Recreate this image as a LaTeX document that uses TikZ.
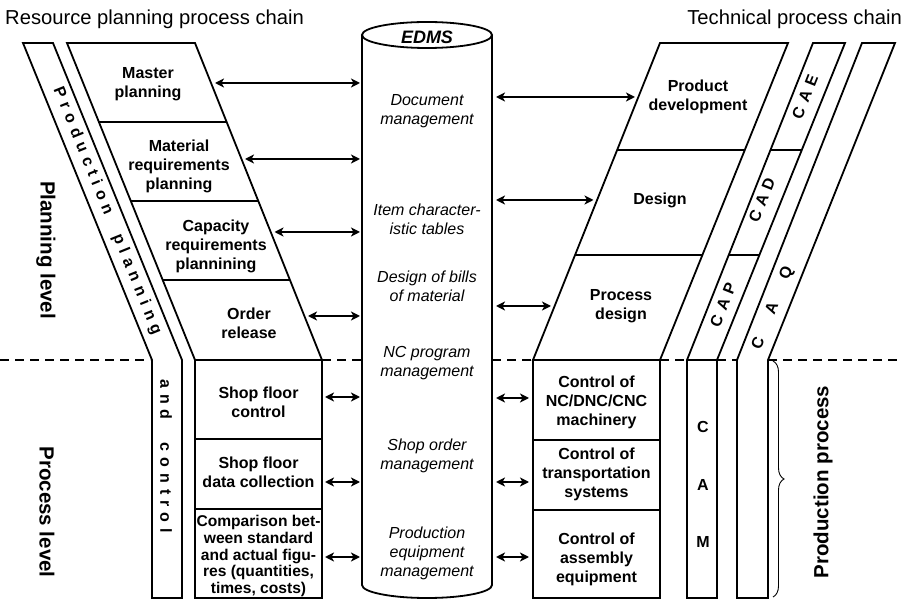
\documentclass[tikz,border=0pt]{standalone}
\usepackage{fontspec}
\setmainfont{Liberation Sans}
\usetikzlibrary{arrows.meta,decorations.pathreplacing}
\makeatletter
\newcommand\lsp[2]{\def\lsp@sep{\hspace{#1}}\@tfor\lsp@c:=#2\do{\lsp@c\lsp@sep}\unskip}
\makeatother
\tikzset{
  box/.style={draw=black, line width=1.8pt, fill=white, line join=miter},
  divline/.style={draw=black, line width=1.8pt},
  lbl/.style={font=\fontsize{16}{19}\selectfont\bfseries, align=center, inner sep=0pt},
  ital/.style={font=\fontsize{16}{19}\selectfont\itshape, align=center, inner sep=0pt},
  dbl/.style={line width=1.8pt, {Stealth[length=9pt,width=9pt,inset=2.5pt]}-{Stealth[length=9pt,width=9pt,inset=2.5pt]}},
  lvl/.style={font=\fontsize{20.5}{24}\selectfont\bfseries, inner sep=0pt},
  ttl/.style={font=\fontsize{20.2}{24}\selectfont, inner sep=0pt},
  bandtxt/.style={font=\fontsize{16}{19}\selectfont\bfseries, inner sep=0pt},
  levelline/.style={line width=2.5pt, dash pattern=on 8.5pt off 6.5pt},
}
\begin{document}
\begin{tikzpicture}[x=1pt,y=-1pt]
\useasboundingbox (0,0) rectangle (903,601);

% level separator (dashed)
\draw[levelline] (0,360) -- (150,360);
\draw[levelline] (322,360) -- (362,360);
\draw[levelline] (492,360) -- (533,360);
\draw[levelline] (660,360) -- (687,360);
\draw[levelline] (717,360) -- (737,360);
\draw[levelline] (768,360) -- (903,360);

% titles
\node[ttl, anchor=base west] (t1) at (5,25) {Resource planning process chain};
\node[ttl, anchor=base east] (t2) at (902,25) {Technical process chain};

% left outer band
\draw[box] (23,43) -- (53,43) -- (182,360) -- (182,598) -- (152,598) -- (152,360) -- cycle;
% left planning boxes
\draw[box] (67,43) -- (195,43) -- (322,360) -- (195,360) -- cycle;
\draw[divline] (98.6,122) -- (226.6,122);
\draw[divline] (130.3,201) -- (258.3,201);
\draw[divline] (162,280) -- (290,280);
% left process boxes
\draw[box] (195,360) rectangle (322,598);
\draw[divline] (195,439) -- (322,439);
\draw[divline] (195,509) -- (322,509);

% right planning boxes
\draw[box] (660,43) -- (788,43) -- (660,360) -- (533,360) -- cycle;
\draw[divline] (617.1,150) -- (745.1,150);
\draw[divline] (575.1,255) -- (703.1,255);
% right process boxes
\draw[box] (533,360) rectangle (660,598);
\draw[divline] (533,440) -- (660,440);
\draw[divline] (533,510) -- (660,510);

% right bands
\draw[box] (813,43) -- (845,43) -- (717,360) -- (717,598) -- (687,598) -- (687,360) -- cycle;
\draw[divline] (770.5,150) -- (801.8,150);
\draw[divline] (728.7,255) -- (759.4,255);
\draw[divline] (687,360) -- (717,360);
\draw[box] (862,43) -- (895,43) -- (768,360) -- (768,598) -- (737,598) -- (737,360) -- cycle;

% brace
\draw[line width=0.9pt, decorate, decoration={brace, amplitude=11pt}] (773,361) -- (773,597);

% EDMS cylinder
\draw[box] (362,35) -- (362,585) arc[start angle=180, end angle=360, x radius=65pt, y radius=13pt] -- (492,35);
\draw[box] (427,35) ellipse[x radius=65pt, y radius=13pt];
\node[font=\fontsize{18}{20}\selectfont\bfseries\itshape, inner sep=0pt] (edms) at (427,37) {EDMS};

% cylinder texts
\node[ital] (c1) at (427,111) {Document\\management};
\node[ital] (c2) at (427,219) {Item character-\\istic tables};
\node[ital] (c3) at (427,286) {Design of bills\\of material};
\node[ital] (c4) at (427,363) {NC program\\management};
\node[ital] (c5) at (427,456) {Shop order\\management};
\node[ital] (c6) at (427,553) {Production\\equipment\\management};

% left box texts
\node[lbl] (l1) at (148,84) {Master\\planning};
\node[lbl] (l2) at (179,166) {Material\\requirements\\planning};
\node[lbl] (l3) at (216,246) {Capacity\\requirements\\plannining};
\node[lbl] (l4) at (249,323) {Order\\release};
\node[lbl] (l5) at (258.5,402) {Shop floor\\control};
\node[lbl] (l6) at (258.5,472) {Shop floor\\data collection};
\node[lbl, font=\fontsize{15.6}{16.6}\selectfont\bfseries] (l7) at (258.5,556) {Comparison bet-\\ween standard\\and actual figu-\\res (quantities,\\times, costs)};

% right box texts
\node[lbl] (r1) at (698,97) {Product\\development};
\node[lbl] (r2) at (660,200) {Design};
\node[lbl] (r3) at (621,306) {Process\\design};
\node[lbl] (r4) at (596.5,402) {Control of\\NC/DNC/CNC\\machinery};
\node[lbl] (r5) at (596.5,474) {Control of\\transportation\\systems};
\node[lbl] (r6) at (596.5,559) {Control of\\assembly\\equipment};

% band texts
\node[bandtxt, rotate=-68] (bp) at (107,211) {\lsp{5.8pt}{Production}\hspace{22pt}\lsp{5.8pt}{planning}};
\node[bandtxt, rotate=-90] (bc) at (166,456) {\lsp{6pt}{and}\hspace{23pt}\lsp{6pt}{control}};
\node[bandtxt, rotate=68.3] (cae) at (805,97) {\lsp{6pt}{CAE}};
\node[bandtxt, rotate=68.3] (cad) at (762,200) {\lsp{6pt}{CAD}};
\node[bandtxt, rotate=68.3] (cap) at (723,305) {\lsp{6pt}{CAP}};
\node[bandtxt, rotate=68.3] (caq) at (773,308) {\lsp{26pt}{CAQ}};
\node[bandtxt] (m1) at (703,427) {C};
\node[bandtxt] (m2) at (703,485) {A};
\node[bandtxt] (m3) at (703,542) {M};

% level labels
\node[lvl, rotate=-90] (plev) at (46,250) {Planning level};
\node[lvl, rotate=-90] (prlev) at (47,512) {Process level};
\node[lvl, rotate=90] (pproc) at (823,482) {Production process};

% arrow end points
\coordinate (la1) at (215,83);   \coordinate (cl1) at (360,83);
\coordinate (la2) at (245,159);  \coordinate (cl2) at (360,159);
\coordinate (la3) at (274.5,232);\coordinate (cl3) at (360,232);
\coordinate (la4) at (308,316);  \coordinate (cl4) at (360,316);
\coordinate (la5) at (325,397);  \coordinate (cl5) at (360,397);
\coordinate (la6) at (325,482);  \coordinate (cl6) at (360,482);
\coordinate (la7) at (325,557);  \coordinate (cl7) at (360,557);
\coordinate (cr1) at (496,97);   \coordinate (ra1) at (635,97);
\coordinate (cr2) at (496,200);  \coordinate (ra2) at (593.5,200);
\coordinate (cr3) at (496,306);  \coordinate (ra3) at (551,306);
\coordinate (cr5) at (496,398);  \coordinate (ra5) at (529,398);
\coordinate (cr6) at (496,482);  \coordinate (ra6) at (529,482);
\coordinate (cr7) at (496,557);  \coordinate (ra7) at (529,557);

\foreach \i in {1,...,7} {\draw[dbl] (la\i) -- (cl\i);}
\foreach \i in {1,2,3,5,6,7} {\draw[dbl] (cr\i) -- (ra\i);}
\end{tikzpicture}
\end{document}
